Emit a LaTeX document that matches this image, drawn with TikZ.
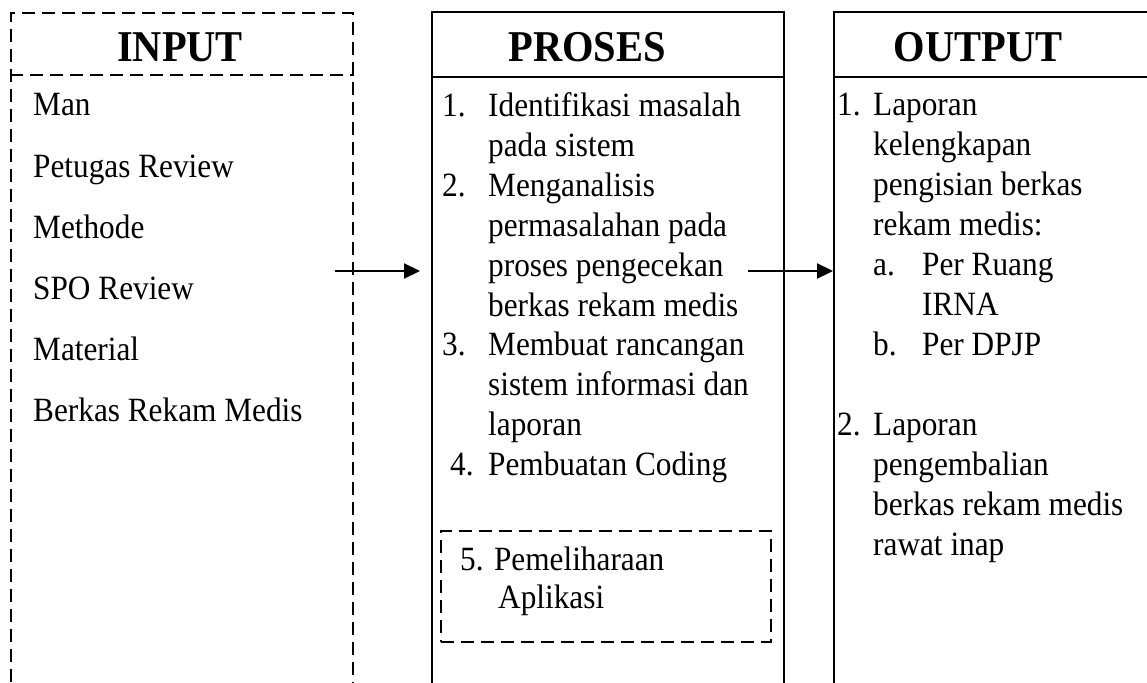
\documentclass[tikz,border=0pt]{standalone}
\usepackage{fontspec}
\setmainfont{Liberation Serif}[FakeStretch=0.92]
\usetikzlibrary{arrows.meta}

\tikzset{
  txt/.style={anchor=base west, inner sep=0pt, font=\fontsize{34}{40}\selectfont},
  head/.style={anchor=base, inner sep=0pt, font=\fontsize{44}{50}\selectfont\bfseries},
  dashbox/.style={draw, line width=1.8pt, dash pattern=on 13pt off 7pt},
  solidbox/.style={draw, line width=1.8pt},
  colbox/.style={anchor=north west, inner sep=0pt, minimum height=720pt},
  arr/.style={-{Triangle[length=16pt,width=15pt]}, line width=2.2pt},
}

\begin{document}
\begin{tikzpicture}[x=1pt,y=-1pt]
\useasboundingbox (0,0) rectangle (1147,682);
\clip (0,0) rectangle (1147,682);

% Columns
\node[colbox, dashbox, minimum width=342pt] (input) at (10,12) {};
\node[colbox, solidbox, minimum width=352pt] (proses) at (431,11) {};
\node[colbox, solidbox, minimum width=340pt] (output) at (833,11) {};

% Header lines
\draw[dashbox] (input.west |- 0,75) -- (input.east |- 0,75);
\draw[solidbox] (proses.west |- 0,77) -- (proses.east |- 0,77);
\draw[solidbox] (output.west |- 0,77) -- (output.east |- 0,77);

% Headers
\node[head] (hin) at (180,62) {INPUT};
\node[head] (hpr) at (587,62) {PROSES};
\node[head] (hout) at (978,62) {OUTPUT};

% Input items
\foreach \t [count=\i] in {Man, Petugas Review, Methode, SPO Review, Material, Berkas Rekam Medis}
  \node[txt] (in\i) at (33,55+61*\i) {\t};

% Proses items
\foreach \x/\k/\t [count=\i] in {442/1/1., 488/1/Identifikasi masalah, 488/2/pada sistem,
    442/3/2., 488/3/Menganalisis, 488/4/permasalahan pada, 488/5/proses pengecekan,
    488/6/berkas rekam medis, 442/7/3., 488/7/Membuat rancangan,
    488/8/sistem informasi dan, 488/9/laporan, 450/10/4., 488/10/Pembuatan Coding}
  \node[txt] (pr\i) at (\x,77.2+39.8*\k) {\t};

% Pemeliharaan
\node[dashbox, anchor=north west, minimum width=330pt, minimum height=111pt] (pemel) at (440,530) {};
\node[txt] (pm1) at (460,570) {5. Pemeliharaan};
\node[txt] (pm2) at (498,608) {Aplikasi};

% Output items
\foreach \x/\k/\t [count=\i] in {837/1/1., 873/1/Laporan, 873/2/kelengkapan,
    873/3/pengisian berkas, 873/4/rekam medis:, 873/5/a., 922/5/Per Ruang,
    922/6/IRNA, 873/7/b., 922/7/Per DPJP, 837/9/2., 873/9/Laporan,
    873/10/pengembalian, 873/11/berkas rekam medis, 873/12/rawat inap}
  \node[txt] (out\i) at (\x,75+40*\k) {\t};

% Arrows
\coordinate (a1) at (335,271);
\coordinate (a1e) at (420,271);
\coordinate (a2) at (748,271);
\draw[arr] (a1) -- (a1e);
\draw[arr] (a2) -- (a2 -| output.west);
\end{tikzpicture}
\end{document}
